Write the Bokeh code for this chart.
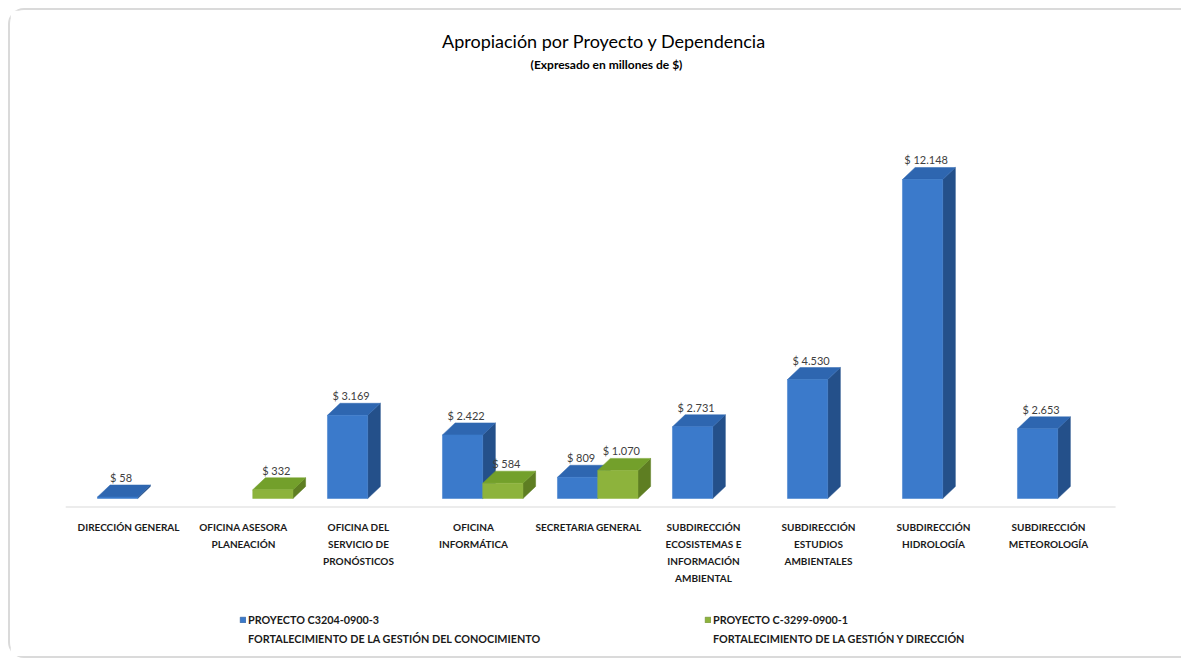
import numpy as np
from bokeh.plotting import figure
from bokeh.layouts import column
from bokeh.models import FixedTicker, Legend, LegendItem, Title, ColumnDataSource
from bokeh.core.properties import value
from bokeh.embed import file_html
from bokeh.resources import INLINE

# ---- data ----
categories = [
    "DIRECCIÓN GENERAL",
    "OFICINA ASESORA\nPLANEACIÓN",
    "OFICINA DEL\nSERVICIO DE\nPRONÓSTICOS",
    "OFICINA\nINFORMÁTICA",
    "SECRETARIA GENERAL",
    "SUBDIRECCIÓN\nECOSISTEMAS E\nINFORMACIÓN\nAMBIENTAL",
    "SUBDIRECCIÓN\nESTUDIOS\nAMBIENTALES",
    "SUBDIRECCIÓN\nHIDROLOGÍA",
    "SUBDIRECCIÓN\nMETEOROLOGÍA",
]
proyecto_1 = [58, None, 3169, 2422, 809, 2731, 4530, 12148, 2653]
proyecto_2 = [None, 332, None, 584, 1070, None, None, None, None]
series_codes = ["PROYECTO C3204-0900-3", "PROYECTO C-3299-0900-1"]
series_desc = ["FORTALECIMIENTO DE LA GESTIÓN DEL CONOCIMIENTO",
               "FORTALECIMIENTO DE LA GESTIÓN Y DIRECCIÓN"]
title_text = "Apropiación  por Proyecto y Dependencia"
subtitle_text = "(Expresado en millones de $)"

FONT = "Lato"

# ---- layout constants ----
W, H1, H2 = 1171, 590, 56
frame_h = 433
y_start, y_end = -343, 16146
x_start = -0.548
frame_w = 1082
x_end = x_start + frame_w / 115.0
y_per_px = (y_end - y_start) / frame_h
dx = 0.11
dy = 12 * y_per_px

p = figure(width=W, height=H1, output_backend="svg", toolbar_location=None,
           x_range=(x_start, x_end), y_range=(y_start, y_end),
           min_border_left=55, min_border_right=34, min_border_top=64,
           min_border_bottom=H1 - 497, y_axis_location=None)
p.outline_line_color = None
p.grid.visible = False
p.background_fill_color = "white"
p.border_fill_color = "white"

p.add_layout(Title(text=subtitle_text, align="center", text_font=FONT,
                   text_font_size="12px", text_font_style="bold",
                   text_color="#000000", standoff=5), "above")
p.add_layout(Title(text=title_text, align="center", text_font=FONT,
                   text_font_size="18px", text_font_style="normal",
                   text_color="#000000", standoff=2), "above")

# floor line
n = len(categories)
p.segment(x0=[x_start], x1=[n - 1 + 0.583], y0=[y_start], y1=[y_start],
          line_color="#d9d9d9", line_width=2)

styles = [
    dict(off0=-0.27, off1=0.08, front="#3b7acb", side="#24508a", top="#2e66b0",
         vals=proyecto_1),
    dict(off0=0.08, off1=0.43, front="#8db33c", side="#5e7e22", top="#73a02b",
         vals=proyecto_2),
]

for s in styles:
    idx = [i for i, v in enumerate(s["vals"]) if v is not None]
    v = np.array([s["vals"][i] for i in idx], dtype=float)
    c = np.array(idx, dtype=float)
    x0 = c + s["off0"]
    x1 = c + s["off1"]
    # side faces
    sx = [[a, a + dx, a + dx, a] for a in x1]
    sy = [[0, dy, val + dy, val] for val in v]
    p.patches(sx, sy, fill_color=s["side"], line_color=s["side"], line_width=0.5)
    # top faces
    tx = [[a, a + dx, b + dx, b] for a, b in zip(x0, x1)]
    ty = [[val, val + dy, val + dy, val] for val in v]
    p.patches(tx, ty, fill_color=s["top"], line_color=s["top"], line_width=0.5)
    # front faces
    p.quad(left=x0, right=x1, bottom=0, top=v, fill_color=s["front"],
           line_color=s["front"], line_width=0.5)
    # value labels
    labels = ["$ " + f"{int(val):,}".replace(",", ".") for val in v]
    src = ColumnDataSource(dict(x=(x0 + x1) / 2 + 0.03, y=v + dy, t=labels))
    p.text(x="x", y="y", text="t", source=src, text_align="center",
           text_baseline="bottom", text_font=value(FONT), text_font_size="11px",
           text_color="#404040", y_offset=-1)

ax = p.xaxis[0]
ax.ticker = FixedTicker(ticks=list(range(n)))
ax.major_label_overrides = {i: cat for i, cat in enumerate(categories)}
ax.axis_line_color = None
ax.major_tick_line_color = None
ax.minor_tick_line_color = None
ax.major_label_standoff = 7
ax.major_label_text_font = FONT
ax.major_label_text_font_size = "10px"
ax.major_label_text_font_style = "bold"
ax.major_label_text_color = "#1a1a1a"
ax.major_label_text_line_height = 1.42

# ---- legend strip ----
p2 = figure(width=W, height=H2, output_backend="svg", toolbar_location=None,
            x_range=(0, 1), y_range=(0, 1), min_border=0,
            x_axis_location=None, y_axis_location=None)
p2.outline_line_color = None
p2.grid.visible = False
p2.border_fill_color = "white"

for s, code, desc, lx in zip(styles, series_codes, series_desc, [174, 639]):
    r = p2.quad(left=[2], right=[3], top=[3], bottom=[2], fill_color=s["front"],
                line_color=s["side"], line_width=0.5)
    blank = p2.quad(left=[2], right=[3], top=[3], bottom=[2], fill_alpha=0,
                    line_alpha=0)
    lg = Legend(items=[LegendItem(label=code, renderers=[r]),
                       LegendItem(label=desc, renderers=[blank])],
                location=(lx, 11), orientation="vertical", padding=0, margin=0,
                spacing=6, glyph_width=7, glyph_height=7, label_standoff=2,
                border_line_color=None, background_fill_alpha=0,
                label_text_font=FONT, label_text_font_size="10.8px",
                label_text_font_style="bold", label_text_color="#1a1a1a")
    p2.add_layout(lg)

layout = column(p, p2, spacing=0)
layout.margin = (8, 0, 0, 8)
layout.styles = {"border-top": "2px solid #dadada", "border-left": "2px solid #dadada",
                 "border-bottom": "2px solid #dadada",
                 "border-top-left-radius": "16px", "border-bottom-left-radius": "16px"}

open("out.html", "w").write(file_html(layout, INLINE))
